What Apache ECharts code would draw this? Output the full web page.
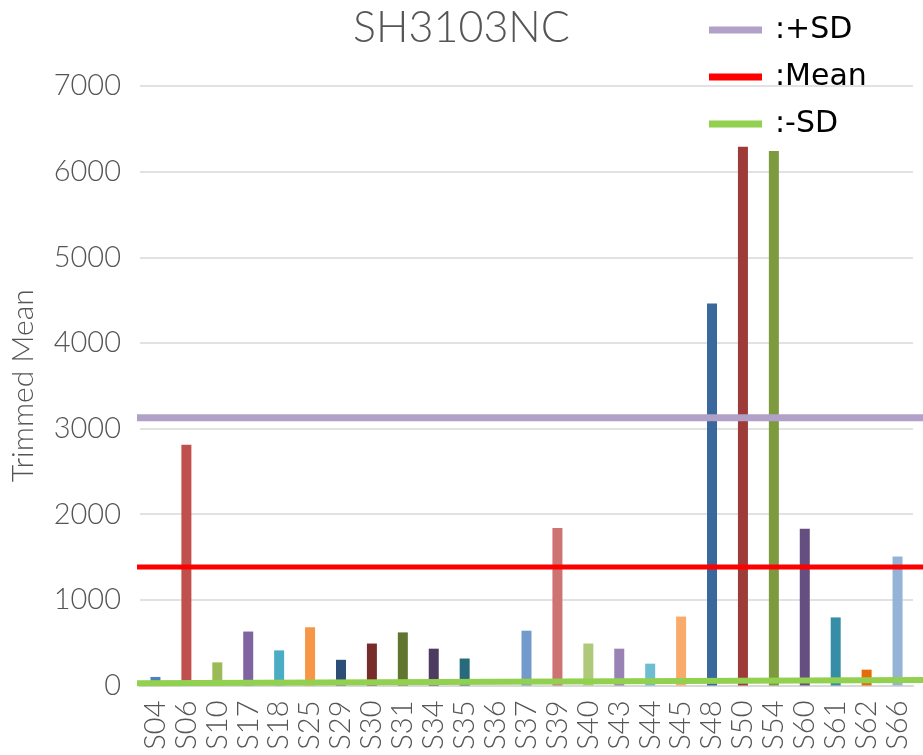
<!DOCTYPE html>
<html>
<head>
<meta charset="utf-8">
<script src="https://cdn.jsdelivr.net/npm/echarts@6/dist/echarts.min.js"></script>
<style>
html, body { margin: 0; padding: 0; background: #fff; }
#chart { width: 923px; height: 755px; }
</style>
</head>
<body>
<div id="chart"></div>
<script>
var categories = ['S04', 'S06', 'S10', 'S17', 'S18', 'S25', 'S29', 'S30', 'S31', 'S34', 'S35', 'S36', 'S37',
  'S39', 'S40', 'S43', 'S44', 'S45', 'S48', 'S50', 'S54', 'S60', 'S61', 'S62', 'S66'];
var trimmedMean = [100, 2810, 270, 630, 410, 680, 300, 490, 620, 430, 315, 0, 640,
  1840, 490, 430, 255, 805, 4460, 6290, 6240, 1830, 795, 185, 1505];
var barColors = ['#4f81bd', '#c0504d', '#9bbb59', '#8064a2', '#4bacc6', '#f79646', '#2c4d75', '#772c2a',
  '#5f7530', '#4d3b62', '#276a7c', '#b65708', '#729aca', '#cd7371', '#afc97a', '#9983b5', '#6fbdd1',
  '#f9ab6b', '#3a679c', '#9d3b38', '#7e9a3f', '#644f80', '#358ea5', '#e46c0a', '#95b3d7'];
// reference lines, start and end value across the plot
var plusSD = [3125, 3125];
var meanLine = [1385, 1385];
var minusSD = [25, 65];
var yTicks = { min: 0, max: 7000, interval: 1000 };

var thin = 'Lato';
var grey = '#555555';
var chart = echarts.init(document.getElementById('chart'));

function lineData(v) {
  return [[0, v[0]], [1, v[1]]];
}

var option = {
  animation: false,
  title: {
    text: 'SH3103NC',
    left: 'center',
    top: 2,
    textStyle: { fontFamily: thin, fontSize: 43, fontWeight: 300, color: grey }
  },
  legend: {
    orient: 'vertical',
    left: 704,
    top: 10,
    icon: 'rect',
    itemWidth: 53,
    itemHeight: 7,
    itemGap: 17,
    data: [':+SD', ':Mean', ':-SD'],
    textStyle: { fontFamily: 'DejaVu Sans', fontSize: 30, color: '#000', lineHeight: 30, padding: [0, 0, 0, 8] }
  },
  grid: [
    { left: 140, right: 10, top: 86, bottom: 69.5 },
    { left: 137, right: 0, top: 86, bottom: 69.5 }
  ],
  xAxis: [
    {
      type: 'category',
      data: categories,
      gridIndex: 0,
      axisTick: { show: false },
      axisLine: { lineStyle: { color: '#d9d9d9', width: 2 } },
      axisLabel: {
        rotate: 90,
        interval: 0,
        margin: 15,
        fontFamily: thin,
        fontSize: 29,
        fontWeight: 300,
        color: grey
      }
    },
    { type: 'value', gridIndex: 1, min: 0, max: 1, show: false }
  ],
  yAxis: [
    {
      type: 'value',
      gridIndex: 0,
      min: yTicks.min,
      max: yTicks.max,
      interval: yTicks.interval,
      name: 'Trimmed Mean',
      nameLocation: 'middle',
      nameGap: 102,
      nameTextStyle: { fontFamily: thin, fontSize: 30, fontWeight: 300, color: grey },
      axisLine: { show: false },
      axisTick: { show: false },
      axisLabel: {
        margin: 19, fontFamily: thin, fontSize: 29, fontWeight: 300, color: grey,
        formatter: function (v) { return String(v); }
      },
      splitLine: { lineStyle: { color: '#d9d9d9', width: 1.5 } }
    },
    { type: 'value', gridIndex: 1, min: yTicks.min, max: yTicks.max, show: false }
  ],
  series: [
    {
      name: 'Trimmed Mean',
      type: 'bar',
      xAxisIndex: 0,
      yAxisIndex: 0,
      barWidth: 10,
      z: 2,
      data: trimmedMean.map(function (v, i) {
        return { value: v, itemStyle: { color: barColors[i] } };
      })
    },
    {
      name: ':+SD', type: 'line', xAxisIndex: 1, yAxisIndex: 1, z: 5,
      symbol: 'none', color: '#b1a0c7', lineStyle: { width: 7, color: '#b1a0c7' },
      data: lineData(plusSD)
    },
    {
      name: ':Mean', type: 'line', xAxisIndex: 1, yAxisIndex: 1, z: 5,
      symbol: 'none', color: '#ff0000', lineStyle: { width: 5, color: '#ff0000' },
      data: lineData(meanLine)
    },
    {
      name: ':-SD', type: 'line', xAxisIndex: 1, yAxisIndex: 1, z: 5,
      symbol: 'none', color: '#92d050', lineStyle: { width: 6, color: '#92d050' },
      data: lineData(minusSD)
    }
  ]
};

chart.setOption(option);
</script>
</body>
</html>
